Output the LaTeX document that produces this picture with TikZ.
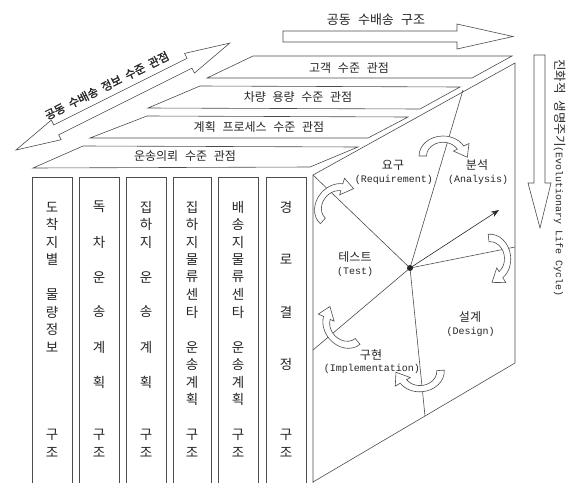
\documentclass[tikz,border=0pt]{standalone}
\usepackage{fontspec}
\usetikzlibrary{arrows.meta}
\newfontfamily\kr{Noto Sans CJK KR}[WordSpace=2.5]
\newfontfamily\krb{Noto Sans CJK KR}[WordSpace=2, FakeBold=1.5]
\newfontfamily\mono{Liberation Mono}
\tikzset{
  ln/.style={draw=black!70, line width=0.6pt},
  bandlbl/.style={font=\kr\fontsize{12}{14}\selectfont, inner sep=0pt, text=black!85},
  coltxt/.style={font=\kr\fontsize{13.5}{14}\selectfont, inner sep=0pt, text=black!85},
  krlbl/.style={font=\kr\fontsize{12}{14}\selectfont, inner sep=0pt, text=black!85},
  enlbl/.style={font=\mono\fontsize{10}{12}\selectfont, inner sep=0pt, text=black!85},
  cyc/.pic={
    \draw[ln, fill=white] (180:16) arc[start angle=180, end angle=30, radius=16]
      -- (30:20) -- (16.2,-1.0) -- (30:8) -- (30:11)
      arc[start angle=30, end angle=180, radius=11] -- cycle;
  }
}
\begin{document}
\begin{tikzpicture}[x=1pt, y=1pt]
\useasboundingbox (0,0) rectangle (575,-482);

% top horizontal arrow
\draw[ln] (283,-31) -- (457,-31) -- (457,-24) -- (513,-36.5) -- (457,-49) -- (457,-42) -- (283,-42) -- cycle;
\node[font=\kr\fontsize{13}{14}\selectfont, inner sep=0pt, text=black!85] (toplbl) at (376,-20) {공동 수배송 구조};

% right vertical arrow
\draw[ln] (534,-55) -- (545,-55) -- (545,-183) -- (551,-183) -- (540,-228) -- (528,-183) -- (534,-183) -- cycle;
\node[rotate=-90, inner sep=0pt, text=black!85] (vlbl) at (560,-178)
  {{\kr\fontsize{12.5}{14}\selectfont 진화적 생명주기}{\mono\fontsize{10}{12}\selectfont (Evolutionary Life Cycle)}};

% diagonal double arrow
\begin{scope}[shift={(16,-150)}, rotate=26.57]
  \draw[ln] (0,0) -- (45,11) -- (45,5.5) -- (194,5.5) -- (194,11) -- (239,0)
    -- (194,-11) -- (194,-5.5) -- (45,-5.5) -- (45,-11) -- cycle;
  \node[rotate=26.57, font=\krb\fontsize{11.5}{14}\selectfont, inner sep=0pt, text=black!85] (diaglbl) at (110,17) {공동 수배송 정보 수준 관점};
\end{scope}

% bands
\draw[ln] (207,-78) -- (253,-56) -- (512,-56) -- (472,-78) -- cycle;
\draw[ln] (148,-108) -- (200,-86) -- (460,-87) -- (420,-109) -- cycle;
\draw[ln] (90,-138) -- (147,-116) -- (408,-117) -- (368,-138) -- cycle;
\draw[ln] (33,-168) -- (83,-146) -- (358,-147) -- (310,-167) -- cycle;
\node[bandlbl] (b1) at (349,-68) {고객 수준 관점};
\node[bandlbl] (b2) at (298,-97) {차량 용량 수준 관점};
\node[bandlbl] (b3) at (259,-127) {계획 프로세스 수준 관점};
\node[bandlbl] (b4) at (185,-156) {운송의뢰 수준 관점};

% columns
\draw[ln] (32,-177) rectangle (72,-495);
\draw[ln] (79,-177) rectangle (119,-495);
\draw[ln] (126,-177) rectangle (166,-495);
\draw[ln] (173,-177) rectangle (211,-495);
\draw[ln] (218,-177) rectangle (258,-495);
\draw[ln] (266,-177) rectangle (306,-495);

\foreach \ch/\r [count=\k] in {도/0,착/1,지/2,별/3,물/5,량/6,정/7,보/8,구/13,조/14}
  \node[coltxt] (ca\k) at (52,{-207-17.5*\r}) {\ch};
\foreach \ch/\r [count=\k] in {독/0,차/2,운/4,송/6,계/8,획/10,구/13,조/14}
  \node[coltxt] (cb\k) at (99,{-207-17.5*\r}) {\ch};
\foreach \ch/\r [count=\k] in {집/0,하/1,지/2,운/4,송/6,계/8,획/10,구/13,조/14}
  \node[coltxt] (cc\k) at (146,{-207-17.5*\r}) {\ch};
\foreach \ch/\r [count=\k] in {집/0,하/1,지/2,물/3,류/4,센/5,타/6,운/8,송/9,계/10,획/11,구/13,조/14}
  \node[coltxt] (cd\k) at (192,{-207-17.5*\r}) {\ch};
\foreach \ch/\r [count=\k] in {배/0,송/1,지/2,물/3,류/4,센/5,타/6,운/8,송/9,계/10,획/11,구/13,조/14}
  \node[coltxt] (ce\k) at (238,{-207-17.5*\r}) {\ch};
\foreach \ch/\r [count=\k] in {경/0,로/3,결/6,정/9,구/13,조/14}
  \node[coltxt] (cf\k) at (286,{-207-17.5*\r}) {\ch};

% right face panel
\coordinate (PTL) at (313,-175);
\coordinate (PTR) at (515,-63);
\coordinate (PBR) at (515,-363);
\coordinate (PBL) at (313,-482);
\draw[ln] (313,-495) -- (PTL) -- (PTR) -- (PBR) -- (PBL);

% wheel
\coordinate (C) at (410,-268);
\coordinate (W1) at (463,-90);
\coordinate (W3) at (313,-350);
\coordinate (W4) at (425,-416);
\coordinate (W5) at (515,-247);
\coordinate (WA) at (499,-210);
\draw[ln] (C) -- (W1);
\draw[ln] (C) -- (PTL);
\draw[ln] (C) -- (W3);
\draw[ln] (C) -- (W4);
\draw[ln] (C) -- (W5);
\draw[ln, draw=black!85, -{Stealth[length=8pt,width=6pt]}] (C) -- (WA);
\fill[black!85] (C) circle (3);

% curved arrows
\pic[xscale=1.5, yscale=1.25] (ra) at (443,-156) {cyc};
\pic[rotate=48, xscale=1.5, yscale=1.25] (rb) at (336.4,-205.9) {cyc};
\pic[rotate=-84, xscale=1.5, yscale=1.25] (rc) at (490.7,-258.1) {cyc};
\pic[rotate=130, xscale=1.5, yscale=1.25] (rd) at (344.6,-325.9) {cyc};
\pic[rotate=-176, xscale=1.5, yscale=1.25] (re) at (420.3,-371.8) {cyc};

% wheel labels
\node[krlbl] (req) at (393,-165) {요구};
\node[enlbl] (reqe) at (394,-180) {(Requirement)};
\node[krlbl] (ana) at (477,-165) {분석};
\node[enlbl] (anae) at (478,-180) {(Analysis)};
\node[krlbl] (tst) at (355,-257) {테스트};
\node[enlbl] (tste) at (355,-272) {(Test)};
\node[krlbl] (des) at (470,-317) {설계};
\node[enlbl] (dese) at (470.5,-332) {(Design)};
\node[krlbl] (imp) at (371,-355) {구현};
\node[enlbl] (impe) at (372,-369) {(Implementation)};
\end{tikzpicture}
\end{document}
